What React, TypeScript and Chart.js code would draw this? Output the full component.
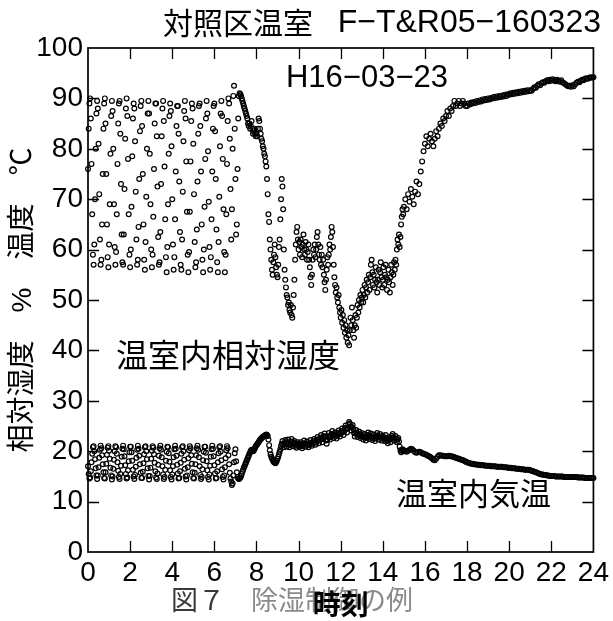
import React, { useEffect, useRef } from "react";
import { Chart, registerables } from "chart.js";

Chart.register(...registerables);

// ---------- texts ----------
const TITLE_JA = "対照区温室";
const TITLE_ID = "F−T&R05−160323";
const DATE_LABEL = "H16−03−23";
const RH_LABEL = "温室内相対湿度";
const TA_LABEL = "温室内気温";
const X_TITLE = "時刻";
const Y_TITLE = "相対湿度　%　温度　℃";
const CAPTION_NO = "図７";
const CAPTION_TEXT = "除湿制御の例";

// ---------- axes ----------
const X_MIN = 0;
const X_MAX = 24;
const X_STEP = 2;
const Y_MIN = 0;
const Y_MAX = 100;
const Y_STEP = 10;

// ---------- logging segments (start hour, sampling interval in minutes) ----------
const NIGHT_START_H = 0;
const NIGHT_STEP_MIN = 2;
const DAY_START_H = 7;
const DAY_STEP_MIN = 2;
const EVENING_START_H = 15;
const EVENING_STEP_MIN = 4;

// relative humidity %, 0:00-6:58
const rhNight = [
  76, 84, 89, 90, 86, 77, 67, 59, 57, 61, 70, 80, 87, 89.5, 88, 81, 71,
  62, 57, 58, 65, 75, 84, 89, 90, 85, 75, 65, 58.5, 56.5, 61, 69, 79, 86.5,
  89.5, 87.5, 80, 69, 60.5, 57, 59.5, 67, 77, 85, 89, 89.5, 83, 73, 63, 57.5, 57,
  63, 72, 82, 88, 90, 86.5, 78, 67, 59, 56.5, 60, 68.5, 78.5, 86, 89, 88, 81.5,
  71.5, 62, 57, 58, 64.5, 74, 83.5, 88.5, 89.5, 84.5, 75, 65, 58, 56, 61.5, 70.5, 80,
  87, 89.5, 87, 79, 69, 60, 56.5, 59, 66.5, 76, 85, 89, 89, 82.5, 72.5, 62.5, 57,
  57.5, 63.5, 73, 82.5, 88, 89.5, 85.5, 76.5, 66, 58.5, 55.5, 60.5, 69, 79, 86.5, 89, 87.5,
  80.5, 70, 61, 56, 58.5, 66, 75.5, 84.5, 88.5, 88.5, 83, 73.5, 63.5, 57, 56, 62, 71.5,
  81.5, 87.5, 89.5, 86, 77.5, 67.5, 59, 55.5, 59.5, 67.5, 77.5, 85.5, 89, 88, 81, 71, 61.5,
  56.5, 57.5, 64, 73.5, 83, 88.5, 89, 84.5, 75.5, 65, 58, 55.5, 60, 68.5, 78, 86, 89.5,
  87, 79.5, 69.5, 60.5, 56, 58.5, 66, 75.5, 84, 88.5, 89, 83.5, 74, 64, 57.5, 55.5, 61.5,
  70.5, 80.5, 87, 89.5, 86.5, 78, 68, 59.5, 55.5, 59, 67, 77, 85.5, 90, 89, 82, 72,
  62, 68, 80, 90.5, 92.5, 84,
];

// relative humidity %, 7:00-14:58
const rhDay = [
  74, 63, 65, 76, 86, 90.5, 91, 90.8, 90.5, 90, 89.5, 89, 88.5, 88, 87.5, 87, 86.5, 86, 85, 84.5, 85, 84, 84.5, 85.5, 84, 83, 83.5, 84, 83, 82.5,
  83, 82.5, 84, 86, 85.5, 84, 83, 82, 81.5, 80.5, 80, 79, 78.5, 77.5, 76.5, 74, 71, 67, 65.5, 62, 60, 58, 56, 55, 57.5, 59, 61, 58.5, 56.5, 55,
  54.5, 57, 60.5, 62, 66, 70, 74, 72.5, 68, 60, 56, 54, 52.5, 51, 50.5, 49, 49.5, 48, 47.5, 49, 47, 46.5, 48.5, 51, 54, 58, 61, 63.5, 64.5, 62,
  60, 61.5, 59, 62, 60.5, 58.5, 61, 63, 60, 59, 61.5, 60, 58, 59.5, 61, 58, 56.5, 54.5, 53, 55, 58, 60, 59, 61, 58.5, 60, 62.5, 63.5, 61, 59,
  58, 60.5, 57, 59, 56.5, 58, 55, 53.5, 52, 54, 56, 58.5, 57, 59, 61, 60, 62.5, 64.5, 63.5, 60.5, 57, 54.5, 53, 51.5, 52.5, 50.5, 49.5, 51, 48.5, 47.5,
  46.5, 48, 45.5, 47, 44.5, 46, 43.5, 45, 42.5, 44, 41.5, 43, 41, 44, 46.5, 45, 48.5, 46, 44, 42.5, 45, 47, 44.5, 46.5, 49, 47.5, 50, 48.5, 51, 49.5,
  50.5, 52, 49.5, 51, 53, 50.5, 52.5, 54, 51.5, 53.5, 55, 52, 54.5, 57, 58, 55.5, 53, 55, 52.5, 54, 56.5, 53.5, 51.5, 54, 56, 53, 55.5, 57.5, 54.5, 52.5,
  54, 56.5, 53, 55, 57, 54.5, 52, 54, 56, 53.5, 51.5, 54.5, 57, 55.5, 53, 55, 57.5, 56, 58, 57, 60, 62, 61, 63, 60.5, 62.5, 65, 66.5, 68, 67,
];

// relative humidity %, 15:00-24:00
const rhEvening = [
  68.5, 70, 68, 71, 69.5, 72, 70.5, 69, 71.5, 73.5, 71, 73, 75.5, 77.5, 79.5,
  81, 82.5, 80.5, 82, 83, 81.5, 80.5, 82, 83.5, 82.5, 84, 85, 84.5, 86, 85.5,
  86.5, 87.5, 86.5, 88, 87.5, 88.5, 89.5, 88.5, 89, 89.5, 88.5, 89, 89.5, 89, 88.5,
  88.5, 89, 88.8, 89.2, 89, 89.3, 89.1, 89.5, 89.3, 89.6, 89.4, 89.8, 89.6, 89.9, 89.7,
  90, 89.8, 90.1, 90, 90.3, 90.1, 90.4, 90.2, 90.5, 90.3, 90.6, 90.4, 90.7, 90.5, 90.8,
  90.7, 91, 90.8, 91.1, 90.9, 91.2, 91, 91.3, 91.1, 91.4, 91.2, 91.5, 91.3, 91.6, 91.4,
  91.6, 91.5, 91.9, 92.2, 92.1, 92.5, 92.8, 92.6, 93, 93.2, 93.1, 93.4, 93.6, 93.4, 93.7,
  93.5, 93.8, 93.6, 93.4, 93.7, 93.5, 93.3, 93.6, 93.2, 93, 92.8, 92.6, 92.4, 92.5, 92.3,
  92.6, 92.4, 92.8, 93.1, 93.3, 93.2, 93.5, 93.7, 93.6, 93.9, 94, 93.9, 94.1, 94.2, 94.1, 94.2,
];

// air temperature ℃, 0:00-6:58
const taNight = [
  17, 15.5, 14.6, 14.8, 16, 17.8, 19.5, 20.8, 21, 20, 18.4, 16.6, 15.2, 14.5, 15.2, 16.8, 18.7,
  20.3, 21.1, 20.6, 19.2, 17.4, 15.8, 14.7, 14.6, 15.8, 17.5, 19.3, 20.7, 21, 20.1, 18.5, 16.7, 15.2,
  14.4, 15, 16.5, 18.3, 20, 21, 20.8, 19.5, 17.8, 16.1, 14.9, 14.5, 15.5, 17.1, 18.9, 20.5, 21.1,
  20.4, 19, 17.2, 15.5, 14.6, 14.8, 16.2, 18, 19.8, 20.9, 20.9, 19.8, 18.1, 16.3, 15, 14.5, 15.3,
  16.9, 18.7, 20.3, 21.1, 20.5, 19.1, 17.4, 15.7, 14.7, 14.7, 15.9, 17.6, 19.4, 20.8, 21, 20, 18.4,
  16.6, 15.1, 14.4, 15.1, 16.7, 18.5, 20.1, 21, 20.7, 19.4, 17.7, 16, 14.8, 14.5, 15.6, 17.3, 19.1,
  20.6, 21.1, 20.3, 18.8, 17, 15.4, 14.5, 14.9, 16.3, 18.1, 19.9, 20.9, 20.8, 19.6, 17.9, 16.2, 14.9,
  14.4, 15.4, 17, 18.8, 20.4, 21.1, 20.5, 19.1, 17.3, 15.6, 14.6, 14.7, 16, 17.7, 19.5, 20.8, 21,
  20, 18.3, 16.5, 15, 14.4, 15.2, 16.8, 18.6, 20.2, 21, 20.6, 19.2, 17.5, 15.8, 14.7, 14.6, 15.7,
  17.4, 19.2, 20.6, 21.1, 20.3, 18.8, 17, 15.3, 14.5, 14.9, 16.4, 18.2, 19.9, 20.9, 20.9, 19.7, 18,
  16.2, 14.9, 14.4, 15.4, 17.1, 18.9, 20.4, 21.1, 20.5, 19, 17.2, 15.6, 14.6, 14.7, 16, 17.8, 19.6,
  20.8, 21, 19.9, 18.2, 16.4, 14.9, 14.4, 15.2, 16.8, 18.6, 20.2, 21, 20.6, 19.2, 17.4, 15.7, 14.6,
  14, 13.3, 13.6, 15.2, 17.8, 19.6,
];

// air temperature ℃, 7:00-14:58
const taDay = [
  20.4, 18, 15.8, 14.9, 14.6, 14.5, 14.6, 14.8, 15.1, 15.5, 15.9, 16.3, 16.7, 17, 17.4, 17.7, 18.1, 18.4, 18.8, 19.1, 19.5, 19.8, 20.1, 20.3, 20.2, 20, 20.1, 20.4, 20.7, 21,
  21.2, 21.4, 21.6, 21.8, 22, 22.2, 22.4, 22.5, 22.7, 22.8, 22.9, 23, 23.1, 23.2, 23.3, 23.2, 23, 22.3, 21.2, 20.2, 19.4, 18.9, 18.6, 18.3, 18, 17.8, 17.7, 17.6, 17.8, 18.1,
  18.5, 18.9, 19.4, 19.9, 20.4, 21, 21.5, 22, 21.3, 20.8, 21.6, 22.2, 21.4, 20.9, 21.8, 22.3, 21.5, 20.8, 21.2, 21.9, 22.4, 21.6, 21, 21.4, 22, 21.7, 21.1, 20.7, 21.3, 21.8,
  21.5, 20.9, 21.3, 21.8, 21.2, 20.6, 21, 21.6, 22.1, 21.5, 20.9, 21.4, 21.9, 21.3, 20.8, 21.2, 21.7, 22.2, 21.6, 21.1, 21.5, 22, 22.4, 21.8, 21.3, 21.7, 22.3, 22.8, 22.2, 21.6,
  22.1, 22.7, 23.2, 22.5, 21.8, 22.4, 23, 23.5, 22.8, 22.1, 21.5, 22.2, 22.9, 23.6, 23, 22.3, 22.8, 23.4, 24, 23.3, 22.6, 23.1, 23.7, 23.2, 22.5, 23, 23.6, 24.1, 23.5, 22.9,
  23.4, 24, 24.5, 23.8, 23.2, 23.9, 24.6, 25.1, 24.4, 23.7, 24.5, 25.3, 25.8, 25.5, 24.8, 24.1, 24.8, 25.2, 24.4, 23.6, 22.9, 23.5, 24.2, 23.6, 22.8, 23.3, 23.9, 23.2, 22.6, 23.1,
  23.6, 22.9, 22.3, 22.8, 23.4, 22.7, 22.1, 22.6, 23.2, 23.7, 23, 22.4, 22.9, 23.5, 22.8, 22.2, 22.7, 23.3, 22.6, 22, 22.5, 23.1, 23.6, 22.9, 22.3, 22.8, 23.4, 22.7, 22.1, 22.6,
  23.1, 22.5, 22, 22.6, 23.2, 22.6, 22, 21.6, 22.2, 22.8, 22.3, 21.8, 22.4, 23, 23.4, 22.7, 22.1, 22.5, 23, 22.4, 21.8, 22.3, 22.6, 21.9, 20.9, 20.2, 19.8, 20.1, 20.4, 20.2,
];

// air temperature ℃, 15:00-24:00
const taEvening = [
  20, 20.1, 19.9, 20.1, 20.3, 20.5, 20.4, 20.1, 19.8, 19.7, 19.8, 19.9, 19.8, 19.6, 19.5,
  19.4, 19.3, 19.1, 19, 18.8, 18.6, 18.3, 18.2, 18.5, 18.9, 19.2, 19.2, 19.1, 19.1, 19,
  19, 19, 19.1, 19, 19, 18.9, 18.8, 18.7, 18.6, 18.5, 18.4, 18.3, 18.2, 18.1, 17.9,
  17.8, 17.7, 17.6, 17.5, 17.5, 17.4, 17.4, 17.3, 17.3, 17.3, 17.2, 17.2, 17.2, 17.1, 17.1,
  17.1, 17.1, 17, 17, 17, 17, 16.9, 16.9, 16.9, 16.9, 16.9, 16.8, 16.8, 16.8, 16.7,
  16.7, 16.7, 16.6, 16.6, 16.6, 16.5, 16.5, 16.5, 16.4, 16.4, 16.4, 16.3, 16.3, 16.3, 16.3,
  16.2, 16.1, 16, 15.9, 15.8, 15.7, 15.6, 15.5, 15.4, 15.4, 15.3, 15.3, 15.2, 15.2, 15.1,
  15.1, 15.1, 15.1, 15, 15, 15, 15, 15, 15, 14.9, 14.9, 14.9, 14.9, 14.9, 14.9,
  14.9, 14.9, 14.9, 14.9, 14.8, 14.8, 14.8, 14.8, 14.8, 14.7, 14.7, 14.7, 14.7, 14.7, 14.7, 14.7,
];

// ---------- helpers ----------
type Pt = { x: number; y: number };
function toPoints(startH: number, stepMin: number, values: number[]): Pt[] {
  return values.map((v, i) => ({ x: startH + (i * stepMin) / 60, y: v }));
}

const FONT_LATIN = "'Liberation Sans', Arial, 'Noto Sans CJK JP', sans-serif";
const FONT_CJK = "'Noto Sans CJK JP', 'Liberation Sans', sans-serif";

const decorPlugin = {
  id: "decor",
  beforeDraw(chart: any) {
    const ctx = chart.ctx as CanvasRenderingContext2D;
    ctx.save();
    ctx.textBaseline = "middle";
    ctx.textAlign = "left";
    ctx.font = `27px ${FONT_CJK}`;
    ctx.fillStyle = "#3a3a3a";
    ctx.fillText(CAPTION_NO, 171, 600);
    ctx.fillStyle = "#8a8a8a";
    ctx.fillText(CAPTION_TEXT, 251, 600);
    ctx.restore();
  },
  beforeDatasetsDraw(chart: any) {
    const ctx = chart.ctx as CanvasRenderingContext2D;
    const a = chart.chartArea;
    const xs = chart.scales.x;
    const ys = chart.scales.y;
    const TL = 11;
    ctx.save();
    ctx.strokeStyle = "#000";
    ctx.lineWidth = 1.3;
    ctx.beginPath();
    xs.ticks.forEach((t: any) => {
      if (t.value <= X_MIN || t.value >= X_MAX) return;
      const px = Math.round(xs.getPixelForValue(t.value)) + 0.5;
      ctx.moveTo(px, a.bottom);
      ctx.lineTo(px, a.bottom - TL);
      ctx.moveTo(px, a.top);
      ctx.lineTo(px, a.top + TL);
    });
    ys.ticks.forEach((t: any) => {
      if (t.value <= Y_MIN || t.value >= Y_MAX) return;
      const py = Math.round(ys.getPixelForValue(t.value)) + 0.5;
      ctx.moveTo(a.left, py);
      ctx.lineTo(a.left + TL, py);
      ctx.moveTo(a.right, py);
      ctx.lineTo(a.right - TL, py);
    });
    ctx.stroke();
    ctx.lineWidth = 1.7;
    ctx.strokeRect(a.left, a.top, a.right - a.left, a.bottom - a.top);
    ctx.restore();
  },
  afterDraw(chart: any) {
    const ctx = chart.ctx as CanvasRenderingContext2D;
    ctx.save();
    ctx.fillStyle = "#000";
    ctx.textBaseline = "middle";
    // title
    ctx.textAlign = "left";
    ctx.font = `30px ${FONT_CJK}`;
    ctx.fillText(TITLE_JA, 163, 23);
    ctx.textAlign = "right";
    ctx.font = `32px ${FONT_LATIN}`;
    ctx.fillText(TITLE_ID, 601, 23);
    // date
    ctx.textAlign = "center";
    ctx.font = `31px ${FONT_LATIN}`;
    ctx.fillText(DATE_LABEL, 367, 78);
    // series labels
    ctx.textAlign = "left";
    ctx.font = `32px ${FONT_CJK}`;
    ctx.fillText(RH_LABEL, 116, 355);
    ctx.font = `31px ${FONT_CJK}`;
    ctx.fillText(TA_LABEL, 396, 493);
    ctx.restore();
  },
};

const pointStyle = {
  showLine: false,
  pointRadius: 2.4,
  pointHoverRadius: 2.4,
  pointBorderWidth: 1.2,
  pointBorderColor: "#000",
  pointBackgroundColor: "rgba(255,255,255,0)",
  clip: 4,
};

export default function App() {
  const canvasRef = useRef<HTMLCanvasElement | null>(null);

  useEffect(() => {
    if (!canvasRef.current) return;
    const rhPoints = [
      ...toPoints(NIGHT_START_H, NIGHT_STEP_MIN, rhNight),
      ...toPoints(DAY_START_H, DAY_STEP_MIN, rhDay),
      ...toPoints(EVENING_START_H, EVENING_STEP_MIN, rhEvening),
    ];
    const taPoints = [
      ...toPoints(NIGHT_START_H, NIGHT_STEP_MIN, taNight),
      ...toPoints(DAY_START_H, DAY_STEP_MIN, taDay),
      ...toPoints(EVENING_START_H, EVENING_STEP_MIN, taEvening),
    ];
    const tickFont = { family: FONT_LATIN, size: 28 };
    const chart = new Chart(canvasRef.current, {
      type: "scatter",
      data: {
        datasets: [
          { label: RH_LABEL, data: rhPoints, ...pointStyle } as any,
          { label: TA_LABEL, data: taPoints, ...pointStyle } as any,
        ],
      },
      options: {
        responsive: false,
        animation: false,
        devicePixelRatio: 1,
        layout: { padding: { left: 0, top: 48, right: 19, bottom: 0 } },
        plugins: {
          legend: { display: false },
          tooltip: { enabled: false },
          title: { display: false },
        },
        scales: {
          x: {
            type: "linear",
            position: "bottom",
            min: X_MIN,
            max: X_MAX,
            ticks: {
              stepSize: X_STEP,
              autoSkip: false,
              maxRotation: 0,
              padding: 4,
              color: "#000",
              font: tickFont,
            },
            grid: { display: false, drawTicks: false },
            border: { display: false },
            title: {
              display: true,
              text: X_TITLE,
              color: "#000",
              font: { family: FONT_CJK, size: 28, weight: "bold" },
              padding: 0,
            },
            afterFit: (s: any) => {
              s.height = 69;
            },
          },
          y: {
            type: "linear",
            min: Y_MIN,
            max: Y_MAX,
            ticks: {
              stepSize: Y_STEP,
              padding: 5,
              color: "#000",
              font: tickFont,
            },
            grid: { display: false, drawTicks: false },
            border: { display: false },
            title: {
              display: true,
              text: Y_TITLE,
              color: "#000",
              font: { family: FONT_LATIN, size: 28 },
              padding: { top: 6, bottom: 0 },
            },
            afterFit: (s: any) => {
              s.width = 88;
            },
          },
        },
      } as any,
      plugins: [decorPlugin as any],
    });
    return () => chart.destroy();
  }, []);

  return (
    <div style={{ position: "absolute", left: 0, top: 0, width: 613, height: 621, background: "#fff" }}>
      <canvas ref={canvasRef} width={613} height={621} style={{ width: 613, height: 621, display: "block" }} />
    </div>
  );
}
